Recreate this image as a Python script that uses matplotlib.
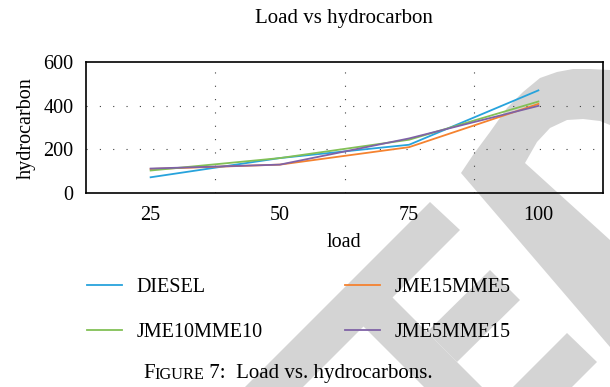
import matplotlib
matplotlib.use("Agg")
import matplotlib.pyplot as plt
from matplotlib.lines import Line2D
from matplotlib.patches import Polygon

# data
load = [25, 50, 75, 100]
diesel = [72, 160, 221, 470]
jme15mme5 = [110, 130, 210, 408]
jme10mme10 = [103, 160, 244, 419]
jme5mme15 = [112, 130, 250, 399]

series_names = ['DIESEL', 'JME15MME5', 'JME10MME10', 'JME5MME15']
series_values = [diesel, jme15mme5, jme10mme10, jme5mme15]
series_colors = ['#27a3dc', '#f5822f', '#82c056', '#7f62a6']

plt.rcParams['font.family'] = ['Liberation Serif', 'DejaVu Serif']
plt.rcParams['font.size'] = 14.5

W, H = 610, 387
fig = plt.figure(figsize=(W / 100, H / 100), dpi=100)


def px(x, y):
    return (x / W, 1 - y / H)


# light grey watermark shapes behind the chart
wm_color = '#d4d4d4'
shapes = [
    [(610, 70), (590, 69), (573, 69), (557, 72), (540, 78), (523, 92), (507, 108),
     (490, 132), (473, 155), (461, 173), (610, 347), (610, 240), (525, 163),
     (537, 142), (550, 128), (567, 120), (583, 119), (600, 121), (610, 125)],
    [(430, 202), (460, 230), (303, 387), (245, 387)],
    [(392, 297), (482, 387), (424, 387), (363, 326)],
    [(490, 270), (520, 300), (457, 362), (427, 332)],
    [(567, 333), (597, 362), (572, 387), (513, 387)],
]
for s in shapes:
    fig.add_artist(Polygon([px(x, y) for x, y in s], closed=True, facecolor=wm_color,
                           edgecolor='none', transform=fig.transFigure, zorder=0))

ax = fig.add_axes([86 / W, 1 - 193 / H, (603 - 86) / W, (193 - 62) / H])
ax.set_facecolor('none')

for name, vals, col in zip(series_names, series_values, series_colors):
    ax.plot(load, vals, color=col, lw=1.3, label=name, zorder=3)

ax.set_xlim(12.5, 112.5)
ax.set_ylim(0, 600)
ax.set_xticks(load)
ax.set_yticks([0, 200, 400, 600])
ax.tick_params(length=0, pad=9)
for sp in ax.spines.values():
    sp.set_linewidth(1.2)

# dotted grid
for gx in [37.5, 62.5, 87.5]:
    ax.axvline(gx, color='0.25', lw=0.8, ls=(0, (1, 11)), zorder=1)
for gy in [200, 400]:
    ax.axhline(gy, color='0.25', lw=0.8, ls=(0, (1, 11)), zorder=1)

fig.text(344 / W, 1 - 19 / H, 'Load vs hydrocarbon', ha='center', va='center', fontsize=15)
fig.text(26 / W, 1 - 128 / H, 'hydrocarbon', rotation=90, ha='center', va='center')
fig.text(344 / W, 1 - 242 / H, 'load', ha='center', va='center')

# legend, two columns
leg_font = {'family': 'Liberation Serif', 'size': 14.5}
handles = {n: Line2D([], [], color=c, lw=1.3) for n, c in zip(series_names, series_colors)}
for x0, names in [(87, ['DIESEL', 'JME10MME10']), (345, ['JME15MME5', 'JME5MME15'])]:
    leg = fig.legend([handles[n] for n in names], names, loc='center left',
                     bbox_to_anchor=px(x0, 310), frameon=False, borderpad=0,
                     borderaxespad=0, handlelength=1.74, handletextpad=0.7,
                     labelspacing=1.32, prop=leg_font)

# caption with small caps
t1 = fig.text(143 / W, 1 - 378 / H, 'F', fontsize=15, va='baseline')
t2 = ax.annotate('IGURE', xy=(1, 0), xycoords=t1, va='bottom', ha='left', fontsize=11.7,
                 annotation_clip=False)
t3 = ax.annotate(' 7:  Load vs. hydrocarbons.', xy=(1, 0), xycoords=t2, va='bottom',
                 ha='left', fontsize=15, annotation_clip=False)

fig.savefig('out.png', dpi=100)
